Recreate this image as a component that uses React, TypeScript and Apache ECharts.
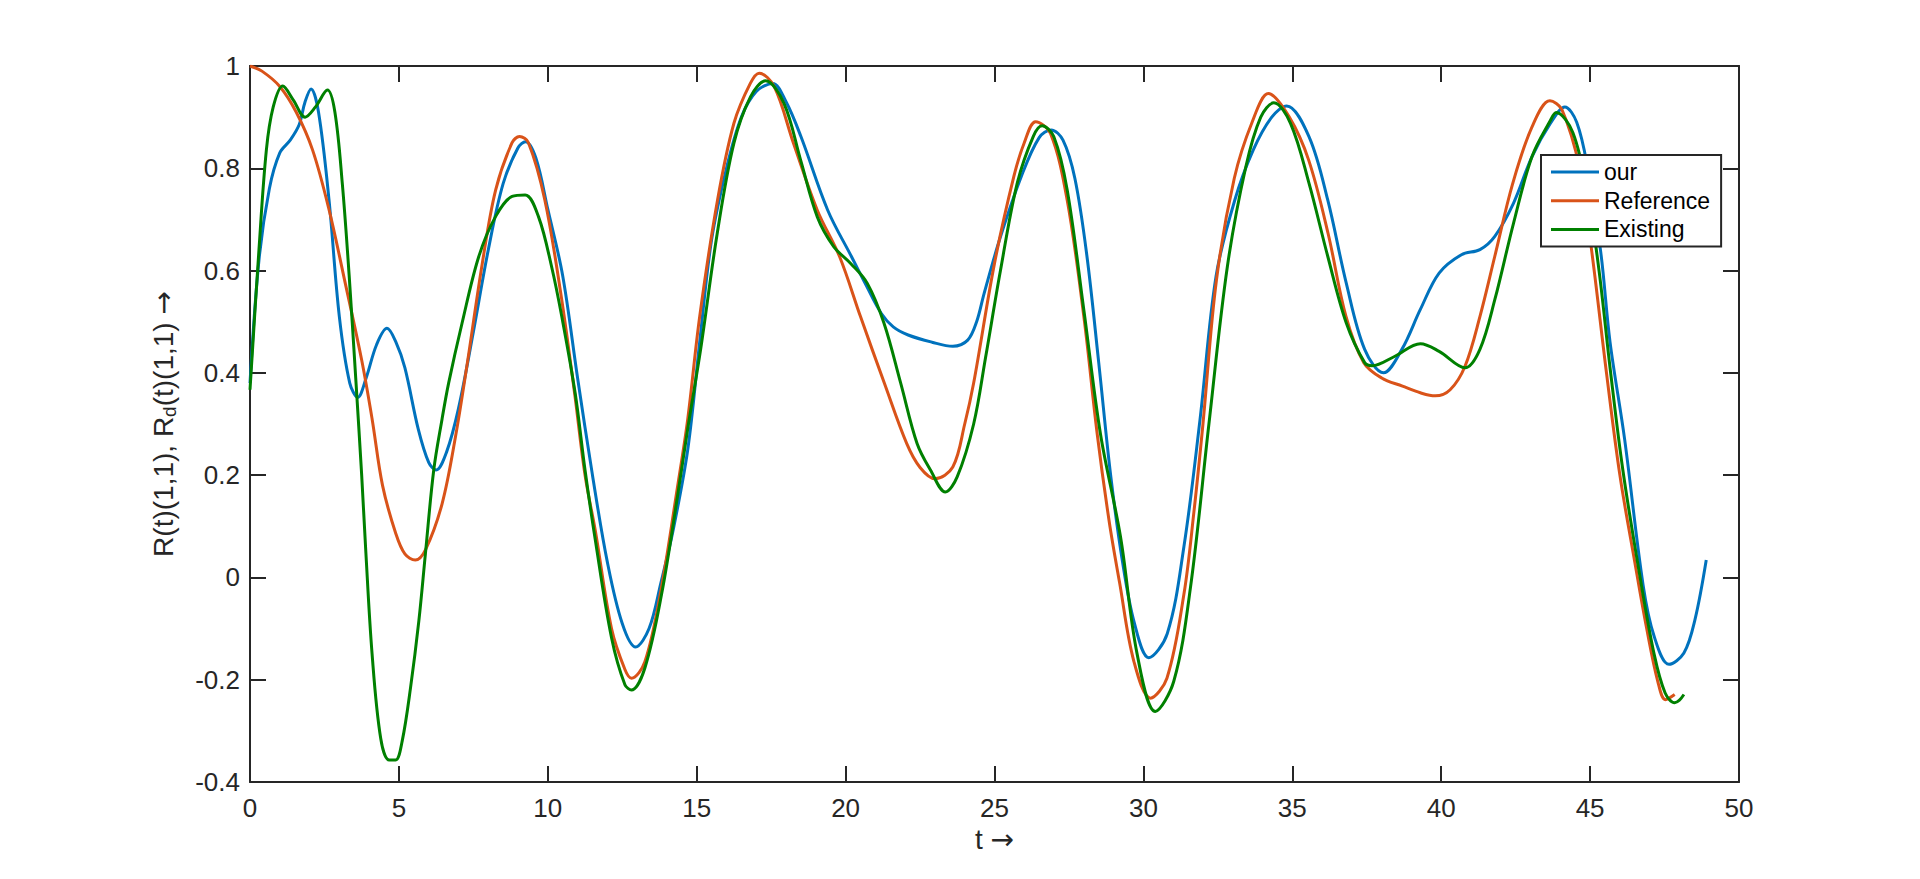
import React, { useEffect, useRef } from "react";
import * as echarts from "echarts";

const FONT = "'Liberation Sans', Arial, Helvetica, sans-serif";
const ARROW_FONT = "'DejaVu Sans', sans-serif";
const INK = "#262626";

const xTicks = { min: 0, max: 50, interval: 5 };
const yTicks = { min: -0.4, max: 1, interval: 0.2 };

const seriesNames = ["our", "Reference", "Existing"];
const seriesColors = ["#0072BD", "#D95319", "#008000"];

const ourT = [0, 0.3, 0.65, 1.0, 1.35, 1.65, 1.85, 2.05, 2.3, 2.65, 3.0, 3.35, 3.62, 3.9, 4.25, 4.6, 4.9, 5.2, 5.65, 6.0, 6.25, 6.6, 7.0, 7.5, 8.0, 8.5, 9.0, 9.25, 9.6, 10.0, 10.5, 11.0, 11.5, 12.0, 12.5, 12.95, 13.4, 13.8, 14.2, 14.7, 15.1, 15.5, 16.0, 16.5, 17.0, 17.55, 18.0, 18.5, 19.4, 20.2, 20.7, 21.2, 21.6, 22.1, 22.9, 23.6, 24.1, 24.4, 24.65, 25.2, 25.9, 26.5, 26.9, 27.3, 27.7, 28.1, 28.5, 28.9, 29.3, 29.7, 30.18, 30.8, 31.36, 31.9, 32.44, 33.07, 33.69, 34.31, 34.81, 35.56, 36.19, 36.81, 37.43, 38.06, 38.68, 39.3, 39.93, 40.68, 41.3, 41.8, 42.43, 43.05, 43.67, 44.15, 44.55, 44.92, 45.36, 45.67, 46.16, 46.78, 47.15, 47.65, 48.15, 48.52, 48.9];
const ourR = [0.38, 0.62, 0.76, 0.83, 0.855, 0.885, 0.93, 0.955, 0.91, 0.74, 0.51, 0.38, 0.352, 0.39, 0.455, 0.487, 0.46, 0.41, 0.29, 0.225, 0.21, 0.245, 0.33, 0.48, 0.64, 0.77, 0.84, 0.852, 0.82, 0.72, 0.59, 0.39, 0.2, 0.03, -0.09, -0.136, -0.1, -0.01, 0.09, 0.25, 0.46, 0.66, 0.8, 0.9, 0.95, 0.966, 0.93, 0.862, 0.718, 0.627, 0.57, 0.516, 0.49, 0.474, 0.46, 0.452, 0.464, 0.5, 0.555, 0.666, 0.784, 0.86, 0.875, 0.855, 0.78, 0.63, 0.42, 0.2, 0.03, -0.09, -0.157, -0.11, 0.06, 0.308, 0.589, 0.738, 0.836, 0.9, 0.922, 0.862, 0.738, 0.576, 0.446, 0.4, 0.446, 0.524, 0.595, 0.631, 0.641, 0.667, 0.732, 0.823, 0.888, 0.92, 0.89, 0.8, 0.635, 0.46, 0.27, -0.015, -0.115, -0.17, -0.148, -0.083, 0.034];

const refT = [0, 0.4, 1.0, 1.55, 2.1, 2.65, 3.2, 3.75, 4.1, 4.45, 4.9, 5.2, 5.55, 5.9, 6.45, 6.9, 7.3, 7.8, 8.25, 8.8, 9.05, 9.35, 9.9, 10.45, 10.9, 11.25, 11.6, 12.14, 12.59, 12.81, 13.26, 13.8, 14.35, 14.7, 15.1, 15.7, 16.25, 16.8, 17.1, 17.6, 18.25, 19.05, 19.8, 20.5, 21.3, 22.05, 22.5, 23.0, 23.6, 24.0, 24.3, 25.0, 25.65, 26.0, 26.38, 26.88, 27.44, 28.0, 28.45, 28.85, 29.2, 29.68, 30.24, 30.79, 31.36, 31.7, 32.0, 32.45, 33.05, 33.65, 34.2, 34.9, 35.55, 36.2, 36.8, 37.4, 38.0, 38.7, 39.3, 39.8, 40.3, 40.8, 41.3, 41.8, 42.4, 43.05, 43.65, 44.05, 44.65, 45.05, 45.55, 46.0, 46.5, 46.9, 47.28, 47.53, 47.84];
const refR = [1.0, 0.99, 0.96, 0.91, 0.836, 0.72, 0.575, 0.425, 0.31, 0.18, 0.085, 0.046, 0.034, 0.055, 0.144, 0.275, 0.42, 0.614, 0.758, 0.85, 0.862, 0.85, 0.738, 0.55, 0.36, 0.2, 0.09, -0.1, -0.18, -0.197, -0.165, -0.025, 0.175, 0.31, 0.51, 0.738, 0.888, 0.966, 0.986, 0.96, 0.849, 0.718, 0.627, 0.51, 0.38, 0.262, 0.215, 0.193, 0.216, 0.3, 0.38, 0.614, 0.784, 0.85, 0.891, 0.868, 0.738, 0.51, 0.28, 0.11, -0.01, -0.164, -0.236, -0.197, -0.033, 0.13, 0.3, 0.58, 0.78, 0.89, 0.946, 0.9, 0.816, 0.673, 0.511, 0.42, 0.39, 0.374, 0.361, 0.355, 0.367, 0.413, 0.51, 0.628, 0.77, 0.881, 0.932, 0.915, 0.8, 0.64, 0.4, 0.2, 0.03, -0.1, -0.205, -0.239, -0.229];

const existT = [0, 0.3, 0.55, 0.78, 1.1, 1.45, 1.85, 2.2, 2.6, 2.85, 3.1, 3.33, 3.55, 3.75, 3.88, 4.1, 4.39, 4.67, 4.89, 5.11, 5.39, 5.67, 5.89, 6.17, 6.45, 6.67, 7.12, 7.68, 8.24, 8.8, 9.24, 9.69, 10.13, 10.47, 10.92, 11.25, 11.58, 12.14, 12.59, 12.81, 13.26, 13.82, 14.37, 14.71, 15.13, 15.69, 16.25, 16.81, 17.31, 17.93, 18.49, 19.05, 19.6, 20.17, 20.73, 21.29, 21.85, 22.4, 22.85, 23.35, 23.75, 24.3, 24.7, 25.2, 25.76, 26.3, 26.6, 26.99, 27.44, 28.0, 28.56, 29.23, 29.79, 30.4, 31.02, 31.58, 32.2, 32.82, 33.44, 33.94, 34.38, 34.94, 35.56, 36.19, 36.81, 37.43, 37.68, 38.43, 39.3, 39.93, 40.8, 41.3, 41.8, 42.43, 43.05, 43.67, 43.86, 44.42, 44.92, 45.3, 45.67, 46.1, 46.65, 47.15, 47.52, 47.84, 48.0, 48.15];
const existR = [0.367, 0.64, 0.836, 0.92, 0.961, 0.934, 0.9, 0.92, 0.953, 0.91, 0.77, 0.59, 0.39, 0.2, 0.06, -0.15, -0.315, -0.357, -0.357, -0.32, -0.216, -0.085, 0.046, 0.21, 0.31, 0.38, 0.497, 0.627, 0.705, 0.745, 0.748, 0.705, 0.607, 0.51, 0.36, 0.21, 0.079, -0.118, -0.21, -0.22, -0.177, -0.033, 0.164, 0.295, 0.445, 0.673, 0.849, 0.94, 0.971, 0.927, 0.816, 0.705, 0.647, 0.614, 0.575, 0.497, 0.38, 0.262, 0.21, 0.167, 0.197, 0.3, 0.43, 0.6, 0.77, 0.862, 0.883, 0.862, 0.758, 0.523, 0.28, 0.08, -0.15, -0.262, -0.203, -0.02, 0.3, 0.608, 0.803, 0.9, 0.928, 0.888, 0.771, 0.628, 0.498, 0.42, 0.414, 0.432, 0.457, 0.442, 0.41, 0.446, 0.543, 0.693, 0.823, 0.894, 0.909, 0.87, 0.75, 0.6, 0.41, 0.21, 0.01, -0.15, -0.226, -0.245, -0.24, -0.229];

const zip = (t: number[], r: number[]) => t.map((v, i) => [v, r[i]]);

const axisCommon = {
  splitLine: { show: false },
  axisLine: { onZero: false, lineStyle: { color: INK, width: 2 } },
  axisTick: { inside: true, length: 16, lineStyle: { color: INK, width: 2 } },
};

const richText = {
  n: { fontSize: 28, color: INK, fontFamily: FONT, lineHeight: 34 },
  s: { fontSize: 19, color: INK, fontFamily: FONT, lineHeight: 34, padding: [13, 0, 0, 0] },
  a: { fontSize: 28, color: INK, fontFamily: ARROW_FONT, lineHeight: 34 },
};

export default function App() {
  const ref = useRef<HTMLDivElement>(null);
  useEffect(() => {
    if (!ref.current) return;
    const chart = echarts.init(ref.current, undefined, { renderer: "svg" });
    const data = [zip(ourT, ourR), zip(refT, refR), zip(existT, existR)];
    chart.setOption({
      animation: false,
      backgroundColor: "#ffffff",
      textStyle: { fontFamily: FONT },
      grid: { left: 250, top: 66, width: 1489, height: 716, containLabel: false },
      xAxis: [
        {
          type: "value", ...xTicks, position: "bottom", ...axisCommon,
          name: "{n|t }{a|→}", nameLocation: "middle", nameGap: 38,
          nameTextStyle: { fontSize: 28, color: INK, fontFamily: FONT, rich: richText },
          axisLabel: { fontSize: 26, color: INK, margin: 13, fontFamily: FONT },
        },
        {
          type: "value", ...xTicks, position: "top", ...axisCommon,
          axisLabel: { show: false },
        },
      ],
      yAxis: [
        {
          type: "value", ...yTicks, position: "left", ...axisCommon,
          name: "{n|R(t)(1,1), R}{s|d}{n|(t)(1,1) }{a|→}",
          nameLocation: "middle", nameGap: 70, nameRotate: 90,
          nameTextStyle: { fontSize: 28, color: INK, fontFamily: FONT, rich: richText },
          axisLabel: { fontSize: 26, color: INK, margin: 10, fontFamily: FONT },
        },
        {
          type: "value", ...yTicks, position: "right", ...axisCommon,
          axisLabel: { show: false },
        },
      ],
      legend: {
        orient: "vertical",
        left: 1541,
        top: 155,
        icon: "rect",
        itemWidth: 48,
        itemHeight: 3,
        itemGap: 4.7,
        padding: [5, 11, 5, 10],
        borderColor: INK,
        borderWidth: 2,
        borderRadius: 0,
        backgroundColor: "#ffffff",
        textStyle: { fontSize: 23, color: "#000000", fontFamily: FONT, lineHeight: 24 },
        data: seriesNames,
      },
      series: seriesNames.map((name, i) => ({
        name,
        type: "line",
        xAxisIndex: 0,
        yAxisIndex: 0,
        data: data[i],
        showSymbol: false,
        symbol: "none",
        smooth: 0.35,
        lineStyle: { color: seriesColors[i], width: 3 },
        itemStyle: { color: seriesColors[i] },
      })),
    });
    return () => chart.dispose();
  }, []);
  return (
    <div
      ref={ref}
      style={{ position: "absolute", left: 0, top: 0, width: 1920, height: 879, background: "#fff" }}
    />
  );
}
